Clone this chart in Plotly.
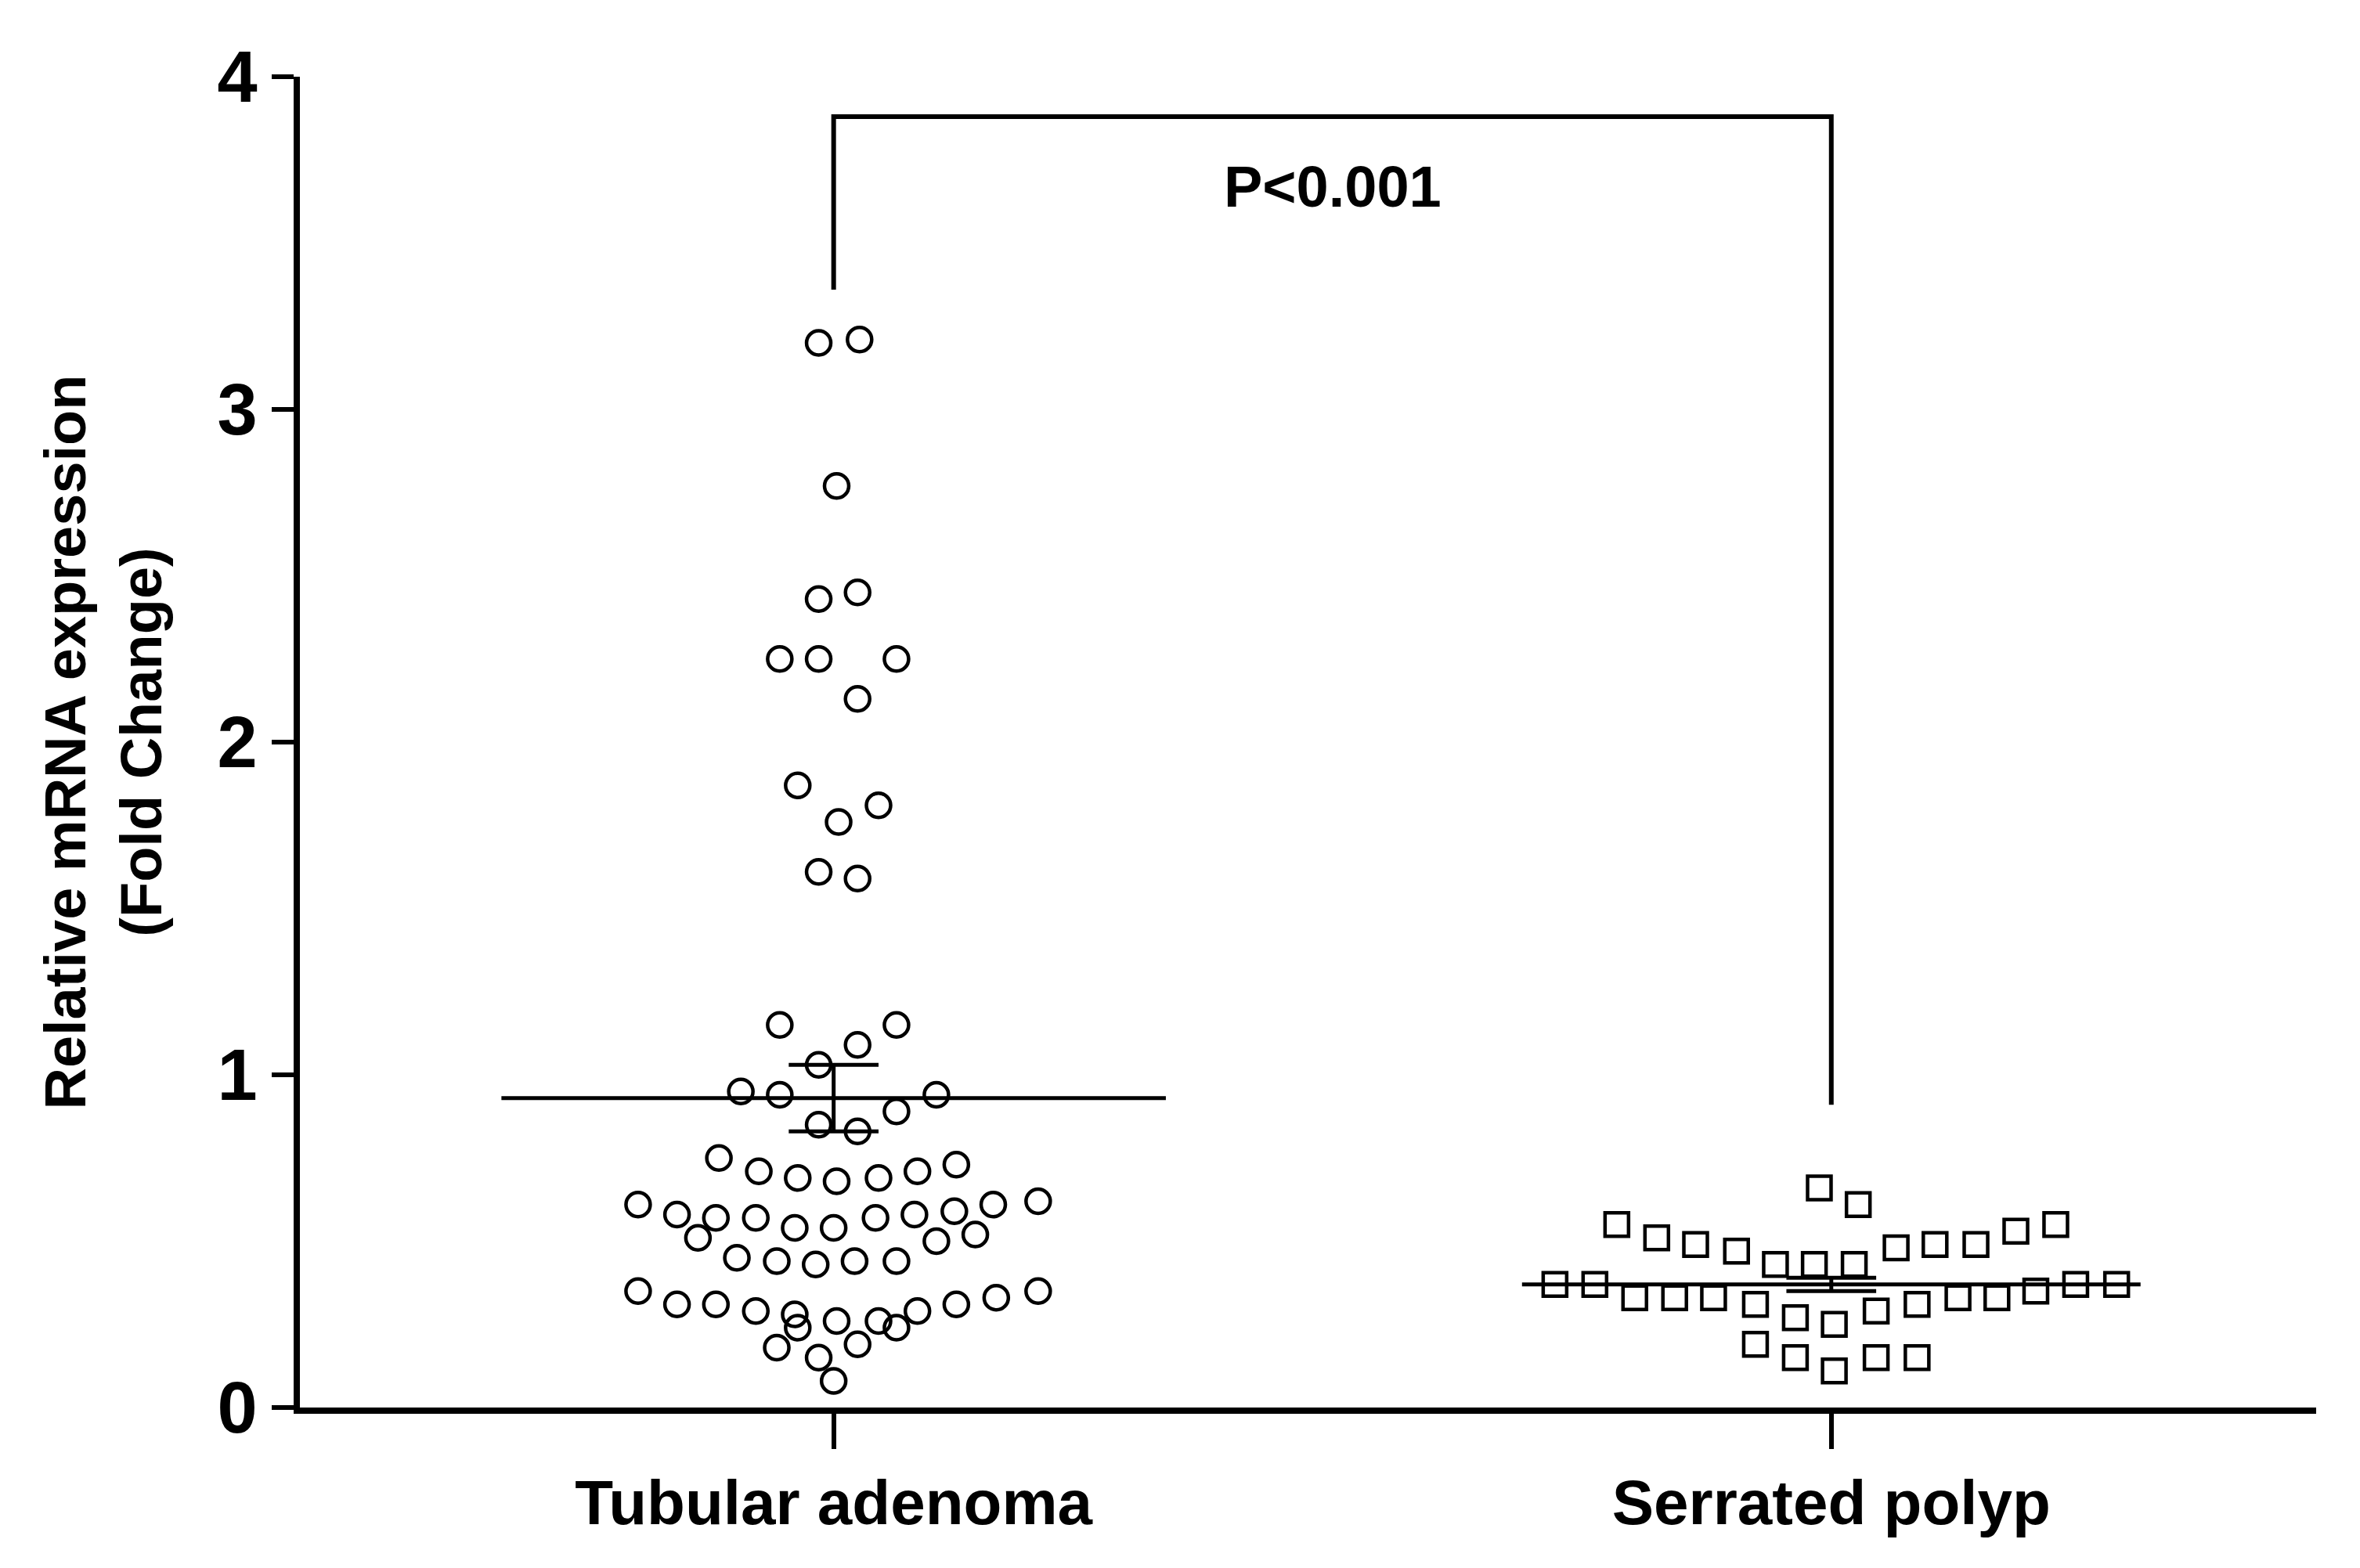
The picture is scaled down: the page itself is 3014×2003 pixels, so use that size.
import plotly.graph_objects as go

categories = ["Tubular adenoma", "Serrated polyp"]
# x offsets (in category units) and values
ta_dx = [-0.015,0.026,0.003,-0.015,0.024,-0.054,-0.015,0.063,0.024,-0.036,0.045,0.005,-0.015,0.024,
         -0.054,0.063,0.024,-0.015,-0.093,-0.054,0.103,0.063,-0.015,0.024,
         -0.115,-0.075,-0.036,0.003,0.045,0.084,0.123,
         -0.196,-0.157,-0.118,-0.078,-0.039,0.0,0.042,0.081,0.121,0.160,0.205,
         -0.136,0.103,0.142,-0.097,-0.057,-0.018,0.021,0.063,
         -0.196,-0.157,-0.118,-0.078,-0.039,0.003,0.045,0.084,0.123,0.163,0.205,
         -0.057,0.024,0.063,-0.015,-0.036,0.0]
ta_vals = [3.20,3.21,2.77,2.43,2.45,2.25,2.25,2.25,2.13,1.87,1.81,1.76,1.61,1.59,
           1.15,1.15,1.09,1.03,0.95,0.94,0.94,0.89,0.85,0.83,
           0.75,0.71,0.69,0.68,0.69,0.71,0.73,
           0.61,0.58,0.57,0.57,0.54,0.54,0.57,0.58,0.59,0.61,0.62,
           0.51,0.50,0.52,0.45,0.44,0.43,0.44,0.44,
           0.35,0.31,0.31,0.29,0.28,0.26,0.26,0.29,0.31,0.33,0.35,
           0.18,0.19,0.24,0.15,0.24,0.08]
sp_dx = [-0.012,0.027,
         -0.215,-0.175,-0.136,-0.095,-0.056,-0.017,0.023,0.065,0.104,0.145,0.185,0.225,
         -0.277,-0.237,0.245,0.286,
         -0.197,-0.157,-0.118,-0.076,-0.036,0.003,0.045,0.086,0.127,0.166,0.205,
         -0.076,-0.036,0.003,0.045,0.086]
sp_vals = [0.66,0.61,
           0.55,0.51,0.49,0.47,0.43,0.43,0.43,0.48,0.49,0.49,0.53,0.55,
           0.37,0.37,0.37,0.37,
           0.33,0.33,0.33,0.31,0.27,0.25,0.29,0.31,0.33,0.33,0.35,
           0.19,0.15,0.11,0.15,0.15]
means = [0.93, 0.37]
sems = [0.10, 0.02]

fig = go.Figure()
fig.add_trace(go.Scatter(x=[1+d for d in ta_dx], y=ta_vals, mode="markers",
    marker=dict(symbol="circle-open", size=31, color="black", line=dict(width=4.5))))
fig.add_trace(go.Scatter(x=[2+d for d in sp_dx], y=sp_vals, mode="markers",
    marker=dict(symbol="square-open", size=30, color="black", line=dict(width=4.5))))

half = [0.333, 0.31]
for i, (m, s) in enumerate(zip(means, sems)):
    c = i + 1
    fig.add_shape(type="line", x0=c-half[i], x1=c+half[i], y0=m, y1=m, line=dict(color="black", width=5))
    fig.add_shape(type="line", x0=c, x1=c, y0=m-s, y1=m+s, line=dict(color="black", width=5))
    for v in (m-s, m+s):
        fig.add_shape(type="line", x0=c-0.045, x1=c+0.045, y0=v, y1=v, line=dict(color="black", width=5))

fig.add_shape(type="path", path="M 1,3.36 L 1,3.88 L 2,3.88 L 2,0.91",
              line=dict(color="black", width=6))
fig.add_annotation(x=1.5, y=3.67, text="<b>P<0.001</b>", showarrow=False,
                   font=dict(family="Liberation Sans", size=74, color="black"))

fig.update_layout(
    width=3014, height=2003, plot_bgcolor="white", paper_bgcolor="white",
    showlegend=False, margin=dict(l=375, r=64, t=90, b=213),
    font=dict(family="Liberation Sans", color="black"),
    xaxis=dict(range=[0.465, 2.486], tickvals=[1, 2],
               ticktext=["<b>" + c + "</b>" for c in categories],
               tickfont=dict(size=80), showline=True, linewidth=8, linecolor="black",
               ticks="outside", ticklen=45, tickwidth=6, tickcolor="black",
               showgrid=False, zeroline=False),
    yaxis=dict(range=[0, 4], tickvals=[0, 1, 2, 3, 4], ticktext=["<b>%d</b>" % v for v in range(5)],
               tickfont=dict(size=92), showline=True, linewidth=8, linecolor="black",
               ticks="outside", ticklen=28, tickwidth=6, tickcolor="black",
               showgrid=False, zeroline=False,
               title=dict(text="<b>Relative mRNA expression<br>(Fold Change)</b>",
                          font=dict(size=74), standoff=50)),
)
fig.write_html("out.html")
